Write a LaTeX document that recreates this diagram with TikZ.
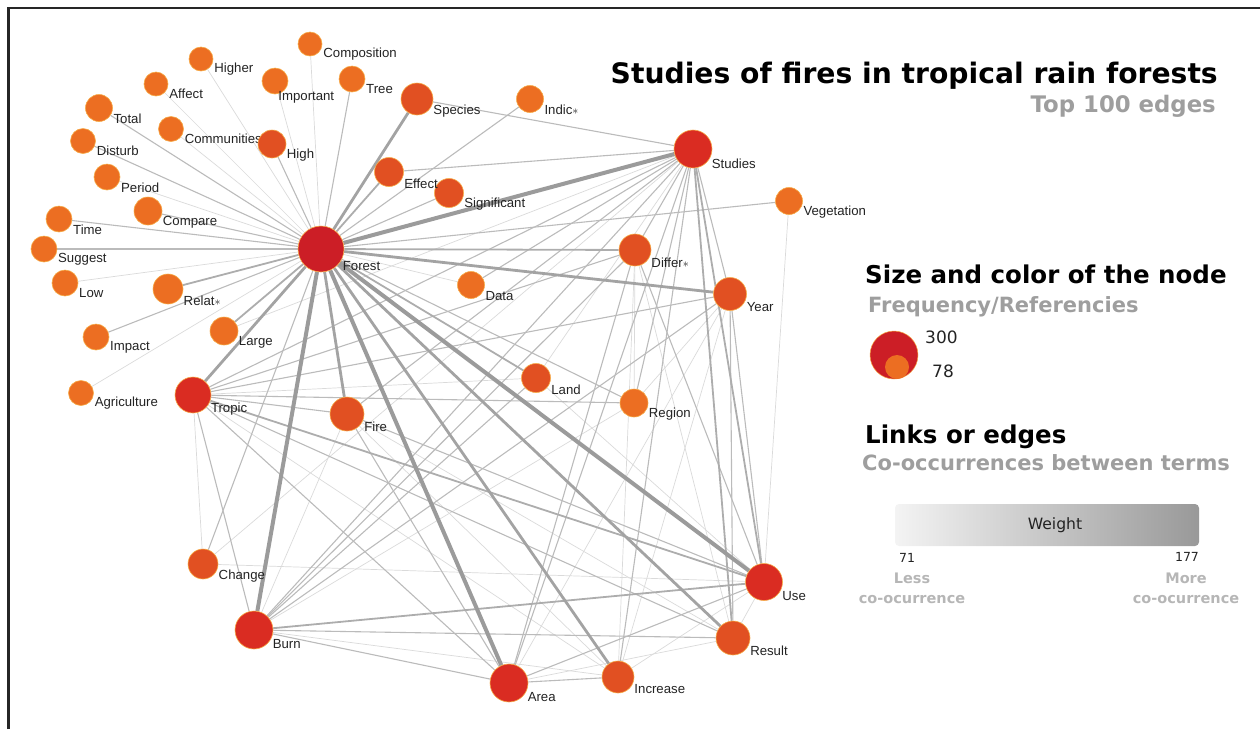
\documentclass[tikz,border=0pt]{standalone}
\usepackage{fontspec}
\setmainfont{Liberation Sans}
\newfontfamily\headfont{DejaVu Sans}
\usepackage{tikz}
\usetikzlibrary{positioning,backgrounds}
\definecolor{hotred}{RGB}{204,30,38}
\definecolor{firered}{RGB}{218,44,34}
\definecolor{emberred}{RGB}{225,80,34}
\definecolor{flameorg}{RGB}{236,110,34}
\definecolor{rimorange}{RGB}{246,170,70}
\definecolor{edgegray}{RGB}{150,150,150}
\definecolor{inkgray}{RGB}{35,35,35}
\definecolor{subgray}{RGB}{158,158,158}

\begin{document}
\begin{tikzpicture}[x=1pt,y=-1pt,
    term/.style={circle,draw=rimorange,line width=0.6pt,inner sep=0pt},
    lbl/.style={anchor=west,inner sep=1.5pt,label distance=3pt,text=inkgray,
      font=\fontsize{13.2}{13}\selectfont},
    wt1/.style={edgegray!35,line width=0.7pt},
    wt2/.style={edgegray!65,line width=1.1pt},
    wt3/.style={edgegray!78,line width=1.8pt},
    wt4/.style={edgegray!88,line width=2.8pt},
    wt5/.style={edgegray!95,line width=4pt},
    head/.style={font=\headfont\bfseries\fontsize{24.5}{26}\selectfont,inner sep=0pt},
    subhead/.style={font=\headfont\bfseries\fontsize{21}{23}\selectfont,text=subgray,inner sep=0pt},
    legtext/.style={font=\headfont\fontsize{17}{18}\selectfont,text=inkgray,inner sep=0pt},
    endtext/.style={font=\headfont\bfseries\fontsize{14.5}{20}\selectfont,text=subgray!75,
      inner sep=0pt,align=center,anchor=north}
  ]
  \useasboundingbox (0,0) rectangle (1260,729);

  % the frame
  \draw[line width=2.6pt,black!85] (8.5,729) -- (8.5,7.8) -- (1260,7.8);

  % the terms
  \foreach \nm/\tx/\x/\y/\d/\col/\ang in {
      forest/Forest/321/249/46/hotred/-40,
      studies/Studies/693/149/38/firered/-40,
      tropic/Tropic/193/395/36/firered/-40,
      burn/Burn/254/630/38/firered/-40,
      area/Area/509/683/38/firered/-40,
      use/Use/764/582/37/firered/-40,
      result/Result/733/638/34/emberred/-40,
      increase/Increase/618/677/32/emberred/-40,
      year/Year/730/294/33/emberred/-40,
      differ/Differ$\ast$/635/250/32/emberred/-40,
      species/Species/417/99/32/emberred/-40,
      fire/Fire/347/414/34/emberred/-40,
      change/Change/203/564/30/emberred/-40,
      land/Land/536/378/29/emberred/-40,
      region/Region/634/403/28/flameorg/-40,
      data/Data/471/285/27/flameorg/-40,
      vegetation/Vegetation/789/201/27/flameorg/-40,
      indic/Indic$\ast$/530/99/27/flameorg/-40,
      significant/Significant/449/193/29/emberred/-40,
      effect/Effect/389/172/29/emberred/-40,
      large/Large/224/331/28/flameorg/-40,
      relat/Relat$\ast$/168/289/30/flameorg/-40,
      impact/Impact/96/337/26/flameorg/-40,
      agriculture/Agriculture/81/393/25/flameorg/-40,
      low/Low/65/283/26/flameorg/-40,
      suggest/Suggest/44/249/26/flameorg/-40,
      time/Time/59/219/26/flameorg/-40,
      compare/Compare/148/211/28/flameorg/-40,
      period/Period/107/177/26/flameorg/-40,
      disturb/Disturb/83/141/25/flameorg/-40,
      total/Total/99/108/27/flameorg/-40,
      communities/Communities/171/129/25/flameorg/-40,
      high/High/272/144/28/emberred/-40,
      affect/Affect/156/84/24/flameorg/-40,
      higher/Higher/201/59/24/flameorg/-40,
      important/Important/275/81/26/flameorg/-84,
      composition/Composition/310/44/24/flameorg/-40,
      tree/Tree/352/79/26/flameorg/-40}
    \node[term,fill=\col,minimum size=\d pt,label={[lbl]\ang:\tx}] (\nm) at (\x,\y) {};

  % the edges
  \begin{scope}[on background layer]
  \foreach \a/\b in {forest/higher,forest/composition,forest/affect,forest/important,
      forest/communities,forest/period,forest/low,forest/agriculture,forest/data,
      studies/land,studies/large,studies/change,tropic/change,tropic/increase,
      tropic/land,burn/increase,burn/region,burn/fire,area/result,area/year,
      use/result,use/increase,use/land,use/vegetation,use/change,result/fire,
      result/differ,increase/year,increase/fire,increase/differ,differ/region,
      year/region}
    \draw[wt1] (\a) -- (\b);
  \foreach \a/\b in {forest/tree,forest/high,forest/compare,forest/region,forest/indic,
      forest/impact,forest/total,forest/disturb,forest/time,forest/suggest,
      forest/vegetation,forest/change,forest/significant,studies/species,studies/effect,
      studies/tropic,studies/differ,studies/year,studies/area,studies/burn,
      studies/fire,studies/data,studies/increase,studies/region,tropic/burn,
      tropic/area,tropic/result,tropic/fire,tropic/year,tropic/differ,tropic/region,
      burn/result,burn/area,burn/year,burn/differ,burn/land,area/use,area/differ,
      area/fire,area/increase,use/year,use/fire,use/differ,result/year}
    \draw[wt2] (\a) -- (\b);
  \foreach \a/\b in {forest/differ,forest/relat,forest/large,forest/effect,forest/land,
      studies/use,studies/result,tropic/use,burn/use}
    \draw[wt3] (\a) -- (\b);
  \foreach \a/\b in {forest/result,forest/tropic,forest/species,forest/fire,
      forest/increase,forest/year}
    \draw[wt4] (\a) -- (\b);
  \foreach \a/\b in {forest/use,forest/studies,forest/burn,forest/area}
    \draw[wt5] (\a) -- (\b);
  \end{scope}

  % the title
  \node[head,font=\headfont\bfseries\fontsize{28.2}{30}\selectfont,anchor=base east]
    (title) at (1218,83) {Studies of fires in tropical rain forests};
  \node[subhead,font=\headfont\bfseries\fontsize{22.8}{24}\selectfont,anchor=base east]
    (subtitle) at (1216,112) {Top 100 edges};

  % the legend of the terms
  \node[head,anchor=base west] (sizehead) at (865,283) {Size and color of the node};
  \node[subhead,anchor=base west] (sizesub) at (868,312) {Frequency/Referencies};
  \node[circle,fill=hotred,draw=rimorange,line width=0.5pt,minimum size=48pt,inner sep=0pt]
    (bigdot) at (894,355) {};
  \node[circle,fill=flameorg,minimum size=24pt,inner sep=0pt] (smalldot) at (897,367) {};
  \node[legtext,anchor=base west] (maxval) at (925,343) {300};
  \node[legtext,anchor=base west] (minval) at (932,377) {78};

  % the legend of the edges
  \node[head,anchor=base west] (linkhead) at (865,443) {Links or edges};
  \node[subhead,anchor=base west] (linksub) at (862,470) {Co-occurrences between terms};
  \node[rounded corners=4pt,left color=gray!9,right color=gray!80,minimum width=304pt,
    minimum height=42pt,font=\headfont\fontsize{15.6}{16}\selectfont,text=inkgray]
    (wbar) at (1047,525) {\hspace*{16pt}Weight};
  \node[legtext,font=\headfont\fontsize{12.5}{12}\selectfont,anchor=base] (lowval) at (907,562) {71};
  \node[legtext,font=\headfont\fontsize{12.5}{12}\selectfont,anchor=base] (highval) at (1187,561) {177};
  \node[endtext] (lesstxt) at (912,573) {Less\\co-ocurrence};
  \node[endtext] (moretxt) at (1186,573) {More\\co-ocurrence};
\end{tikzpicture}
\end{document}
